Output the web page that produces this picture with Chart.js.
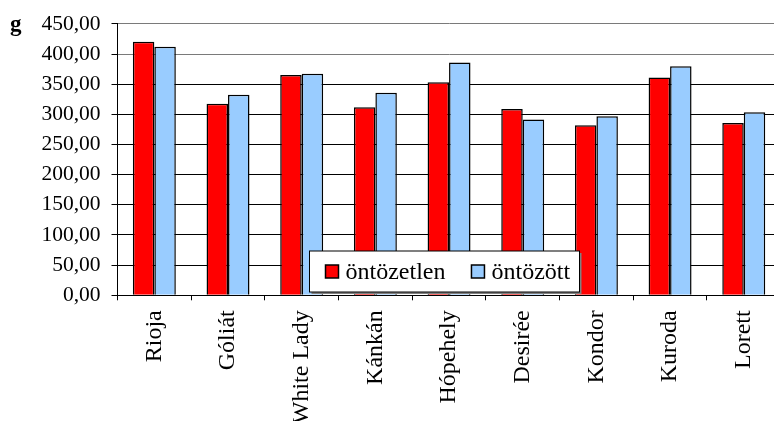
<!DOCTYPE html>
<html>
<head>
<meta charset="utf-8">
<script src="https://cdn.jsdelivr.net/npm/chart.js@4"></script>
<style>
  html, body { margin: 0; padding: 0; background: #fff; overflow: hidden; }
  #wrap { width: 774px; height: 421px; overflow: hidden; }
  canvas { display: block; }
</style>
</head>
<body>
<div id="wrap"><canvas id="c" width="800" height="421"></canvas></div>
<script>
// Potato varieties and tuber mass (g), unirrigated vs irrigated
const varieties = ['Rioja', 'Góliát', 'White Lady', 'Kánkán', 'Hópehely', 'Desirée', 'Kondor', 'Kuroda', 'Lorett'];
const unirrigated = [420.2, 317.7, 365.2, 311.6, 353.1, 308.8, 282.0, 361.2, 285.6];
const irrigated   = [412.0, 332.4, 367.3, 335.7, 385.8, 291.5, 296.9, 379.9, 303.6];
const yTicks = [0, 50, 100, 150, 200, 250, 300, 350, 400, 450];
const seriesNames = ['öntözetlen', 'öntözött'];
const unitLabel = 'g';

const SERIF = '"Liberation Serif", "Times New Roman", serif';

// Boxed legend sitting over the lower middle of the plot
const boxLegend = {
  id: 'boxLegend',
  afterDraw(chart) {
    const ctx = chart.ctx;
    const x = 309.5, y = 251, w = 270, h = 41;
    ctx.save();
    ctx.fillStyle = '#808080';
    ctx.fillRect(x + 2, y + 2, w, h);
    ctx.fillStyle = '#fff';
    ctx.fillRect(x, y, w, h);
    ctx.strokeStyle = '#000';
    ctx.lineWidth = 1;
    ctx.strokeRect(x, y, w, h);
    ctx.font = '24px ' + SERIF;
    ctx.textBaseline = 'alphabetic';
    let cx = x + 16;
    chart.data.datasets.forEach((ds) => {
      ctx.fillStyle = ds.backgroundColor;
      ctx.fillRect(cx, 265, 13, 13);
      ctx.strokeStyle = '#000';
      ctx.lineWidth = 1.5;
      ctx.strokeRect(cx, 265, 13, 13);
      ctx.fillStyle = '#000';
      ctx.fillText(ds.label, cx + 20, 279);
      cx += 20 + ctx.measureText(ds.label).width + 26;
    });
    ctx.restore();
  }
};

// Unit caption beside the top of the value axis
const unitCaption = {
  id: 'unitCaption',
  afterDraw(chart) {
    const ctx = chart.ctx;
    const ys = chart.scales.y;
    ctx.save();
    ctx.font = 'bold 23px ' + SERIF;
    ctx.fillStyle = '#000';
    ctx.textBaseline = 'alphabetic';
    ctx.fillText(unitLabel, 10, ys.getPixelForValue(yTicks[yTicks.length - 1]) + 7);
    ctx.restore();
  }
};

new Chart(document.getElementById('c'), {
  type: 'bar',
  data: {
    labels: varieties,
    datasets: [
      { label: seriesNames[0], data: unirrigated, backgroundColor: '#FF0000', borderColor: '#000', borderWidth: 1.5 },
      { label: seriesNames[1], data: irrigated, backgroundColor: '#99CCFF', borderColor: '#000', borderWidth: 1.5 }
    ]
  },
  options: {
    responsive: false,
    animation: false,
    devicePixelRatio: 1,
    layout: { padding: { left: 0, top: 20.7, right: 19.4, bottom: 0 } },
    datasets: { bar: { categoryPercentage: 0.583, barPercentage: 1.0 } },
    plugins: { legend: { display: false }, tooltip: { enabled: false } },
    scales: {
      x: {
        offset: true,
        grid: { display: true, drawOnChartArea: false, drawTicks: true, tickLength: 5, offset: true, color: '#000', lineWidth: 1 },
        border: { display: true, color: '#000', width: 1 },
        ticks: {
          font: { family: SERIF, size: 24 },
          color: '#000',
          minRotation: 90,
          maxRotation: 90,
          padding: 10,
          autoSkip: false
        },
        afterFit(axis) { axis.height = 125.7; }
      },
      y: {
        min: 0,
        max: 450,
        afterBuildTicks(axis) { axis.ticks = yTicks.map(v => ({ value: v })); },
        grid: {
          color: (c) => (c.tick && c.tick.value >= 400 ? '#7a7a7a' : '#000'),
          lineWidth: 1,
          tickLength: 6,
          drawTicks: true,
          tickColor: '#000'
        },
        border: { display: true, color: '#000', width: 1 },
        ticks: {
          font: { family: SERIF, size: 21.5 },
          color: '#000',
          padding: 11,
          callback: (v) => Number(v).toFixed(2).replace('.', ',')
        },
        afterFit(axis) { axis.width = 117.5; }
      }
    }
  },
  plugins: [boxLegend, unitCaption]
});
</script>
</body>
</html>
